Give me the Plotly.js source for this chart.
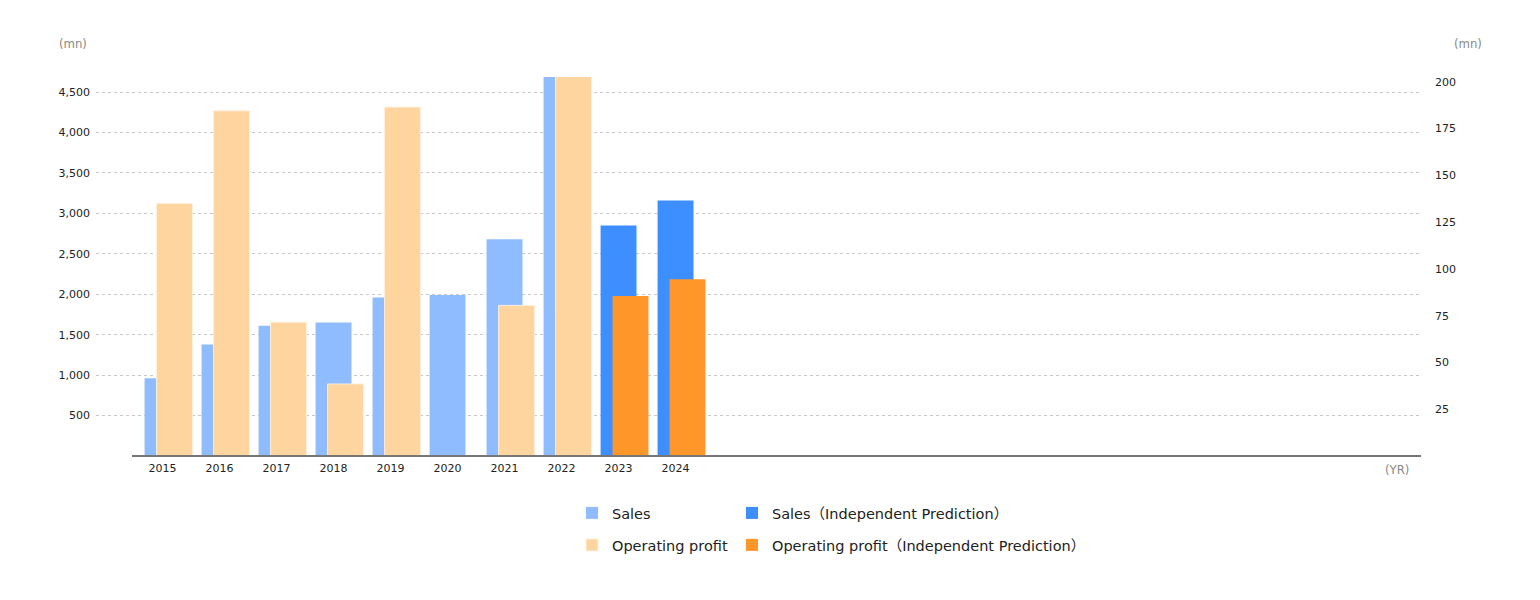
<!DOCTYPE html>
<html>
<head>
<meta charset="utf-8">
<script src="https://cdn.plot.ly/plotly-3.0.1.min.js"></script>
<style>html,body{margin:0;padding:0;background:#fff;}#chart{width:1540px;height:600px;}</style>
</head>
<body>
<div id="chart"></div>
<script>
const years = ['2015','2016','2017','2018','2019','2020','2021','2022','2023','2024'];
const sales =          [960, 1380, 1610, 1650, 1960, 1990, 2680, 4900, null, null];
const salesPred =      [null, null, null, null, null, null, null, null, 2850, 3160];
const profit =         [135, 184.5, 71.5, 38.5, 186.5, null, 80.5, 215, null, null];
const profitPred =     [null, null, null, null, null, null, null, null, 85.5, 94.5];
const leftTicks = [500, 1000, 1500, 2000, 2500, 3000, 3500, 4000, 4500];
const rightTicks = [25, 50, 75, 100, 125, 150, 175, 200];
const names = ['Sales', 'Sales（Independent Prediction）', 'Operating profit', 'Operating profit（Independent Prediction）'];

const FONT = 'DejaVu Sans, Noto Sans CJK JP, sans-serif';
const UNITFONT = 'DejaVu Sans Condensed, Liberation Sans Narrow, sans-serif';
const W = 0.63, OFF_S = -0.315, OFF_P = -0.105;

const traces = [
  {type:'bar', x: years, y: sales, name: names[0], width: W, offset: OFF_S, yaxis:'y',
   marker:{color:'#8fbcff'}, legend:'legend'},
  {type:'bar', x: years, y: salesPred, name: names[1], width: W, offset: OFF_S, yaxis:'y',
   marker:{color:'#3d8eff'}, legend:'legend2'},
  {type:'bar', x: years, y: profit, name: names[2], width: W, offset: OFF_P, yaxis:'y2',
   marker:{color:'#ffd59f', line:{color:'rgba(255,240,220,0.9)', width:1}}, legend:'legend3'},
  {type:'bar', x: years, y: profitPred, name: names[3], width: W, offset: OFF_P, yaxis:'y2',
   marker:{color:'#ff962a'}, legend:'legend4'}
];

function px2x(px){ return (px - 96) / 1324; }
function py2y(py){ return (456 - py) / 379; }
function leg(xpx, ypx){
  return {orientation:'h', x: px2x(xpx), xanchor:'left', y: py2y(ypx), yanchor:'middle',
          font:{size:14.5, color:'#222', family: FONT}, itemclick:false, bgcolor:'rgba(0,0,0,0)'};
}

const layout = {
  width: 1540, height: 600,
  margin: {l: 96, r: 120, t: 77, b: 144},
  paper_bgcolor: '#fff', plot_bgcolor: '#fff',
  font: {family: FONT, size: 11, color: '#222'},
  barmode: 'overlay',
  showlegend: true,
  xaxis: {type:'category', categoryarray: years, range: [-1.167, 22.06],
          showgrid:false, showline:false, zeroline:false, ticks:'', ticklabelstandoff: 4,
          tickfont:{size:11, color:'#222'}, fixedrange:true},
  yaxis: {range:[0, 4686], tickvals: leftTicks, tickformat: ',', showgrid:true,
          gridcolor:'#c8c8c8', griddash:'3px,3px', gridwidth:1, zeroline:false,
          showline:false, ticks:'', ticklabelstandoff: 5, tickfont:{size:11, color:'#222'}},
  yaxis2: {range:[0, 202.6], tickvals: rightTicks, overlaying:'y', side:'right',
           showgrid:false, zeroline:false, showline:false, ticks:'', ticklabelstandoff: 14,
           tickfont:{size:11, color:'#222'}},
  legend: leg(572, 513),
  legend2: leg(732, 513),
  legend3: leg(572, 545),
  legend4: leg(732, 545),
  shapes: [
    {type:'line', xref:'paper', yref:'paper', x0:px2x(132), x1:px2x(1421), y0:0, y1:0,
     line:{color:'#777', width:2}}
  ],
  annotations: [
    {text:'(mn)', xref:'paper', yref:'paper', x:px2x(73), y:py2y(43), showarrow:false,
     xanchor:'center', yanchor:'middle', font:{size:13, color:'#8a8a8a', family: UNITFONT}},
    {text:'(mn)', xref:'paper', yref:'paper', x:px2x(1468), y:py2y(43), showarrow:false,
     xanchor:'center', yanchor:'middle', font:{size:13, color:'#8a8a8a', family: UNITFONT}},
    {text:'(YR)', xref:'paper', yref:'paper', x:px2x(1397), y:py2y(469), showarrow:false,
     xanchor:'center', yanchor:'middle', font:{size:13, color:'#8a8a8a', family: UNITFONT}}
  ]
};

Plotly.newPlot('chart', traces, layout, {displayModeBar:false, staticPlot:true});
</script>
</body>
</html>
